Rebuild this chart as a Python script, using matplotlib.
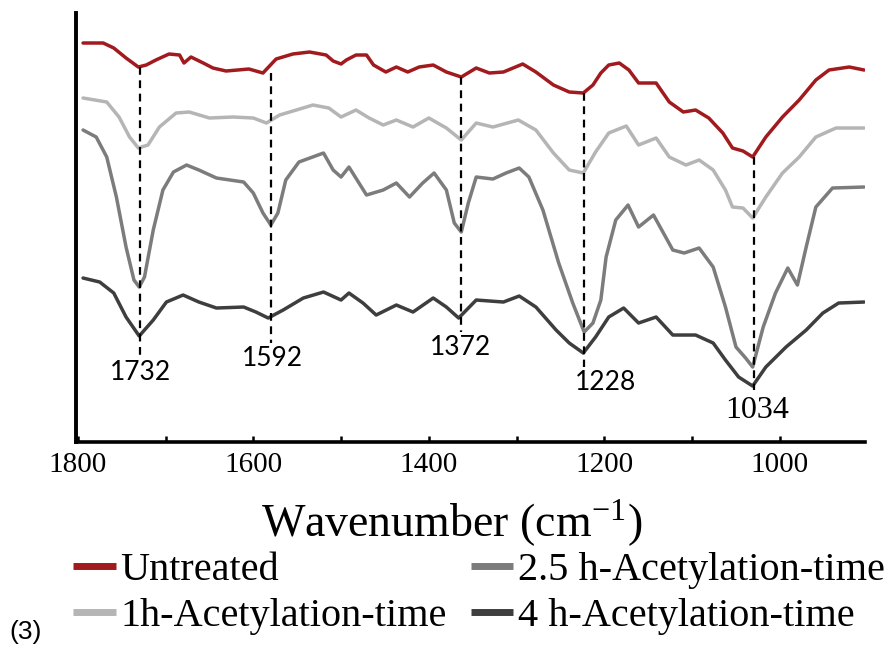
import matplotlib
matplotlib.use('Agg')
import matplotlib.pyplot as plt

plt.rcParams['font.family'] = 'Liberation Serif'
plt.rcParams['mathtext.fontset'] = 'stix'

# FTIR spectra (wavenumber, transmittance a.u.)
untreated = [(1794, 3.99), (1771, 3.99), (1759, 3.94), (1745, 3.84), (1731, 3.75), (1722, 3.77),
             (1711, 3.82), (1696, 3.88), (1684, 3.87), (1679, 3.79), (1671, 3.85), (1657, 3.79),
             (1646, 3.74), (1631, 3.71), (1605, 3.73), (1589, 3.69), (1574, 3.83), (1555, 3.88),
             (1536, 3.90), (1517, 3.87), (1509, 3.81), (1500, 3.78), (1494, 3.82), (1483, 3.87),
             (1471, 3.87), (1463, 3.77), (1449, 3.70), (1437, 3.75), (1424, 3.70), (1411, 3.75),
             (1395, 3.77), (1380, 3.70), (1363, 3.65), (1346, 3.74), (1331, 3.69), (1315, 3.70),
             (1293, 3.78), (1278, 3.70), (1258, 3.57), (1240, 3.50), (1224, 3.49), (1213, 3.57),
             (1204, 3.69), (1195, 3.77), (1183, 3.79), (1172, 3.72), (1161, 3.59), (1141, 3.59),
             (1126, 3.40), (1110, 3.30), (1096, 3.32), (1081, 3.24), (1065, 3.09), (1054, 2.94),
             (1042, 2.91), (1031, 2.85), (1016, 3.05), (997, 3.25), (978, 3.42), (959, 3.62),
             (944, 3.72), (921, 3.75), (904, 3.72)]

acet_1h = [(1794, 3.44), (1767, 3.40), (1753, 3.25), (1741, 3.05), (1731, 2.94), (1720, 2.97),
           (1707, 3.15), (1688, 3.29), (1673, 3.30), (1650, 3.24), (1623, 3.25), (1600, 3.24),
           (1585, 3.19), (1570, 3.27), (1551, 3.32), (1532, 3.37), (1514, 3.34), (1500, 3.25),
           (1483, 3.32), (1468, 3.24), (1452, 3.17), (1437, 3.22), (1418, 3.15), (1400, 3.24),
           (1380, 3.14), (1363, 3.02), (1346, 3.19), (1327, 3.15), (1298, 3.22), (1278, 3.12),
           (1258, 2.89), (1240, 2.72), (1224, 2.69), (1210, 2.90), (1195, 3.09), (1175, 3.16),
           (1161, 2.97), (1141, 3.04), (1126, 2.85), (1107, 2.77), (1092, 2.82), (1076, 2.72),
           (1062, 2.52), (1054, 2.35), (1042, 2.34), (1031, 2.24), (1016, 2.45), (997, 2.69),
           (978, 2.85), (959, 3.05), (936, 3.14), (904, 3.14)]

acet_25h = [(1794, 3.12), (1779, 3.05), (1767, 2.85), (1756, 2.45), (1745, 1.95), (1736, 1.62),
            (1730, 1.55), (1724, 1.65), (1714, 2.12), (1703, 2.52), (1691, 2.70), (1676, 2.77),
            (1662, 2.72), (1642, 2.64), (1611, 2.60), (1600, 2.49), (1589, 2.29), (1580, 2.17),
            (1572, 2.29), (1563, 2.62), (1548, 2.80), (1520, 2.89), (1509, 2.72), (1500, 2.65),
            (1491, 2.75), (1471, 2.47), (1452, 2.52), (1437, 2.59), (1422, 2.45), (1407, 2.59),
            (1394, 2.69), (1380, 2.52), (1371, 2.19), (1363, 2.10), (1355, 2.39), (1346, 2.65),
            (1327, 2.63), (1312, 2.69), (1297, 2.74), (1286, 2.65), (1270, 2.32), (1252, 1.79),
            (1236, 1.39), (1223, 1.10), (1213, 1.19), (1204, 1.42), (1198, 1.85), (1187, 2.22),
            (1173, 2.37), (1161, 2.15), (1144, 2.27), (1122, 1.92), (1109, 1.89), (1092, 1.94),
            (1076, 1.75), (1062, 1.35), (1050, 0.95), (1039, 0.84), (1031, 0.75), (1019, 1.15),
            (1005, 1.49), (991, 1.74), (980, 1.57), (970, 1.95), (959, 2.35), (940, 2.54),
            (904, 2.55)]

acet_4h = [(1794, 1.64), (1775, 1.60), (1759, 1.49), (1745, 1.25), (1730, 1.06), (1714, 1.22),
           (1699, 1.40), (1680, 1.47), (1662, 1.40), (1642, 1.34), (1611, 1.35), (1597, 1.30),
           (1583, 1.24), (1566, 1.32), (1543, 1.44), (1520, 1.50), (1500, 1.42), (1491, 1.49),
           (1475, 1.39), (1460, 1.27), (1437, 1.37), (1418, 1.30), (1395, 1.44), (1380, 1.35),
           (1366, 1.24), (1346, 1.42), (1315, 1.40), (1297, 1.46), (1278, 1.35), (1255, 1.12),
           (1240, 0.99), (1224, 0.89), (1210, 1.05), (1195, 1.25), (1178, 1.34), (1161, 1.19),
           (1141, 1.25), (1122, 1.07), (1096, 1.07), (1076, 0.99), (1062, 0.82), (1047, 0.65),
           (1031, 0.56), (1016, 0.75), (993, 0.95), (970, 1.12), (951, 1.29), (933, 1.39),
           (904, 1.40)]

labels = ['Untreated', '1h-Acetylation-time', '2.5 h-Acetylation-time', '4 h-Acetylation-time']
colors = ['#A11A1E', '#B5B5B5', '#7C7C7C', '#3E3E3E']

# marked peaks
peak_wn = [1729, 1580, 1363, 1223, 1029]
peak_top = [3.75, 3.69, 3.65, 3.49, 2.85]
peak_bottom = [0.85, 0.99, 1.10, 0.75, 0.52]
peak_text = ['1732', '1592', '1372', '1228', '1034']
peak_text_x = [1729, 1578, 1364, 1199, 1026]
peak_text_y = [0.70, 0.84, 0.95, 0.60, 0.32]

# x axis ticks
major_ticks = [1800, 1600, 1400, 1200, 1000]
minor_ticks = [1700, 1500, 1300, 1100]

fig = plt.figure(figsize=(8.85, 6.47), dpi=100)
ax = fig.add_axes([0.0859, 0.3168, 0.8915, 0.6631])

handles = []
for data, lab, col in zip([untreated, acet_1h, acet_25h, acet_4h], labels, colors):
    wn, val = zip(*data)
    h, = ax.plot(wn, val, color=col, lw=2.5, label=lab, solid_joinstyle='round',
                 solid_capstyle='round', zorder=3)
    handles.append(h)

for x, y0, y1 in zip(peak_wn, peak_top, peak_bottom):
    ax.plot([x, x], [y0, y1], color='black', lw=1.6, ls=(0, (3.5, 2.5)), zorder=4)

for i, (t, x, y) in enumerate(zip(peak_text, peak_text_x, peak_text_y)):
    if i < 4:
        ax.text(x, y, t, ha='center', va='center', fontsize=19, family='Lato')
    else:
        ax.text(x, y, t, ha='center', va='center', fontsize=23, family='Liberation Serif')

ax.set_xlim(1802, 903)
ax.set_ylim(0, 4.29)
ax.set_xticks(major_ticks)
ax.set_xticklabels([str(t) for t in major_ticks], fontsize=21, family='Liberation Serif')
ax.set_xticks(minor_ticks, minor=True)
ax.tick_params(axis='x', which='both', direction='in', length=4, width=1.8, pad=7)
ax.set_yticks([])
for s in ['top', 'right']:
    ax.spines[s].set_visible(False)
ax.spines['left'].set_linewidth(2.8)
ax.spines['bottom'].set_linewidth(2.6)

fig.text(0.511, 0.192, 'Wavenumber (cm$^{\\mathregular{-1}}$)', ha='center', va='center',
         fontsize=33)

fig.legend(handles, labels, ncol=2,
           loc='upper left', bbox_to_anchor=(0.083, 0.147), frameon=False,
           prop={'family': 'Liberation Serif', 'size': 29}, handlelength=1.05,
           handletextpad=0.12, columnspacing=0.6, labelspacing=0.22,
           borderpad=0, borderaxespad=0)
for lh in fig.legends[0].get_lines():
    lh.set_linewidth(5)
    lh.set_solid_capstyle('butt')

fig.text(0.029, 0.023, '(3)', ha='center', va='center', fontsize=19, family='Liberation Sans')

fig.savefig('out.png', dpi=100, facecolor='white')
